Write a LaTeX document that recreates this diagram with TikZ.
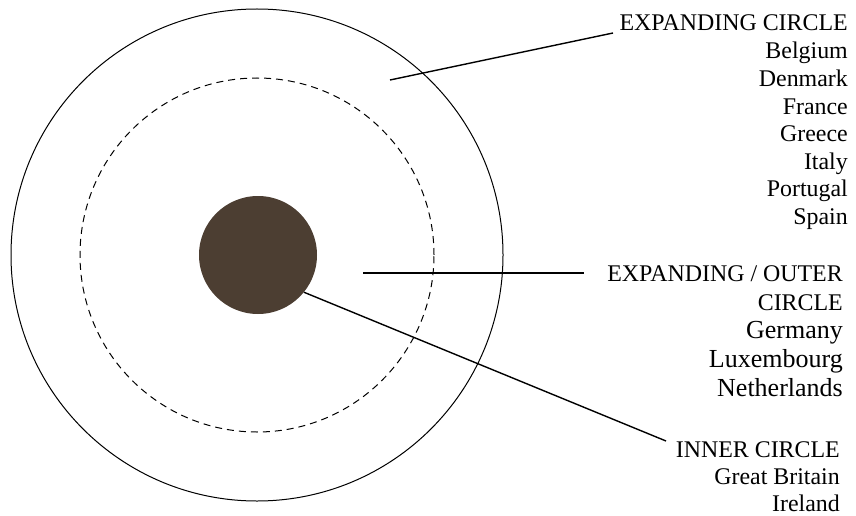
\documentclass[tikz,border=0pt]{standalone}
\usepackage{fontspec}
\setmainfont{Liberation Serif}
\definecolor{core}{RGB}{76,62,50}
\tikzset{
  ring/.style={draw=black, line width=1pt},
  dashring/.style={draw=black, line width=1pt, dash pattern=on 7pt off 5pt},
  lead/.style={draw=black, line width=1.4pt},
  lbl/.style={anchor=base east, inner sep=0pt, font=\fontsize{23.9}{27}\selectfont},
  lblbig/.style={anchor=base east, inner sep=0pt, font=\fontsize{26}{29}\selectfont}
}
\begin{document}
\begin{tikzpicture}[x=1pt,y=-1pt]
\useasboundingbox (0,0) rectangle (856,516);
\draw[ring] (257,255) circle (246pt);
\draw[dashring] (257,255) circle (177pt);
\node[circle, fill=core, minimum size=118pt, inner sep=0pt] (core) at (258,255) {};
% labels group 1
\node[lbl] (e1) at (848,31) {EXPANDING CIRCLE};
\node[lbl] (e2) at (848,59) {Belgium};
\node[lbl] (e3) at (848,86.5) {Denmark};
\node[lbl] (e4) at (848,114) {France};
\node[lbl] (e5) at (848,141.5) {Greece};
\node[lbl] (e6) at (848,169) {Italy};
\node[lbl] (e7) at (848,196.5) {Portugal};
\node[lbl] (e8) at (848,224) {Spain};
% group 2
\node[lbl] (o1) at (843,281) {EXPANDING / OUTER};
\node[lbl] (o2) at (843,310) {CIRCLE};
\node[lblbig] (o3) at (843,338) {Germany};
\node[lblbig] (o4) at (843,367) {Luxembourg};
\node[lblbig] (o5) at (843,396) {Netherlands};
% group 3
\node[lbl] (i1) at (840,457) {INNER CIRCLE};
\node[lbl] (i2) at (840,484.5) {Great Britain};
\node[lbl] (i3) at (840,511) {Ireland};
% leaders
\coordinate (p1) at (390,80);
\coordinate (q1) at (613,33);
\coordinate (p2) at (363,273);
\coordinate (q2) at (584,273);
\coordinate (q3) at (666,441);
\draw[lead] (p1) -- (q1);
\draw[lead] (p2) -- (q2);
\draw[lead] (core.-39) -- (q3);
\end{tikzpicture}
\end{document}
